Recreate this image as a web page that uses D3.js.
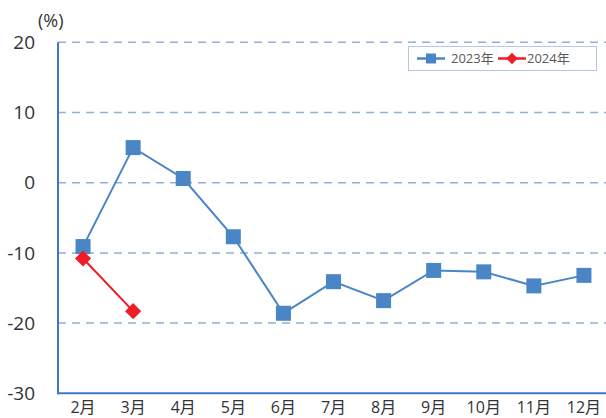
<!DOCTYPE html>
<html><head><meta charset="utf-8">
<script src="https://cdn.jsdelivr.net/npm/d3@7"></script>
<style>body{margin:0;background:#fff}svg{display:block}text{font-family:"Open Sans","Noto Sans CJK JP",sans-serif}</style>
</head><body><svg id="c" width="606" height="418"></svg>
<script>
const categories = ["2月","3月","4月","5月","6月","7月","8月","9月","10月","11月","12月"];
const values2023 = [-9.1,5.0,0.6,-7.7,-18.6,-14.1,-16.8,-12.5,-12.7,-14.7,-13.2];
const values2024 = [-10.8,-18.3];
const yTicks = [20,10,0,-10,-20,-30];
const seriesNames = ["2023年","2024年"];

(function(){
const svg = d3.select("#c");
const pL = 58, pR = 609, pT = 42.3, pB = 393.3;
const x = d3.scaleBand().domain(categories).range([pL, pR]);
const y = d3.scaleLinear().domain([-30, 20]).range([pB, pT]);
const cx = d => x(d) + x.bandwidth() / 2;

svg.append("g").selectAll("line").data(yTicks.filter(t => t > -30)).join("line")
  .attr("x1", pL).attr("x2", 606).attr("y1", d => y(d)).attr("y2", d => y(d))
  .attr("stroke", "#8fb0dc").attr("stroke-width", 1.5).attr("stroke-dasharray", "8,6");

svg.append("g").selectAll("text").data(yTicks).join("text")
  .attr("x", 35).attr("y", d => y(d)).attr("dy", "0.35em").attr("text-anchor", "end")
  .attr("font-size", 19).attr("fill", "#333").text(d => d);

svg.append("text").attr("x", 38).attr("y", 27).attr("font-size", 18).attr("fill", "#333").text("(%)");

svg.append("line").attr("x1", pL).attr("x2", pL).attr("y1", pT).attr("y2", pB + 1)
  .attr("stroke", "#3f77c0").attr("stroke-width", 2);
svg.append("line").attr("x1", pL - 1).attr("x2", 606).attr("y1", pB).attr("y2", pB)
  .attr("stroke", "#3f77c0").attr("stroke-width", 2);

svg.append("g").selectAll("text").data(categories).join("text")
  .attr("x", d => cx(d)).attr("y", 413).attr("text-anchor", "middle")
  .attr("font-size", 16).attr("fill", "#333").text(d => d);

const line = d3.line().x((d, i) => cx(categories[i])).y(d => y(d));
const blue = "#4a86c6", red = "#ee1c25";

svg.append("path").datum(values2023).attr("d", line).attr("fill", "none").attr("stroke", blue).attr("stroke-width", 2);
svg.append("g").selectAll("rect").data(values2023).join("rect")
  .attr("x", (d, i) => cx(categories[i]) - 7.5).attr("y", d => y(d) - 7.5)
  .attr("width", 15).attr("height", 15).attr("fill", blue);

svg.append("path").datum(values2024).attr("d", line).attr("fill", "none").attr("stroke", red).attr("stroke-width", 2);
const diamond = d3.symbol().type(d3.symbolSquare).size(130);
svg.append("g").selectAll("path").data(values2024).join("path")
  .attr("d", diamond).attr("transform", (d, i) => `translate(${cx(categories[i])},${y(d)}) rotate(45)`)
  .attr("fill", red);

const lg = svg.append("g");
lg.append("rect").attr("x", 408.5).attr("y", 46.5).attr("width", 188).attr("height", 24)
  .attr("fill", "#fff").attr("stroke", "#b4c7e7").attr("stroke-width", 1);
lg.append("line").attr("x1", 417).attr("x2", 445).attr("y1", 58.5).attr("y2", 58.5).attr("stroke", blue).attr("stroke-width", 2.5);
lg.append("rect").attr("x", 426).attr("y", 53.5).attr("width", 10).attr("height", 10).attr("fill", blue);
lg.append("text").attr("x", 451).attr("y", 58.5).attr("dy", "0.35em").attr("font-size", 13).attr("fill", "#595959").text(seriesNames[0]);
lg.append("line").attr("x1", 498).attr("x2", 526).attr("y1", 58.5).attr("y2", 58.5).attr("stroke", red).attr("stroke-width", 2.5);
lg.append("path").attr("d", d3.symbol().type(d3.symbolSquare).size(64)()).attr("transform", "translate(512,58.5) rotate(45)").attr("fill", red);
lg.append("text").attr("x", 527).attr("y", 58.5).attr("dy", "0.35em").attr("font-size", 13).attr("fill", "#595959").text(seriesNames[1]);
})();
</script></body></html>
